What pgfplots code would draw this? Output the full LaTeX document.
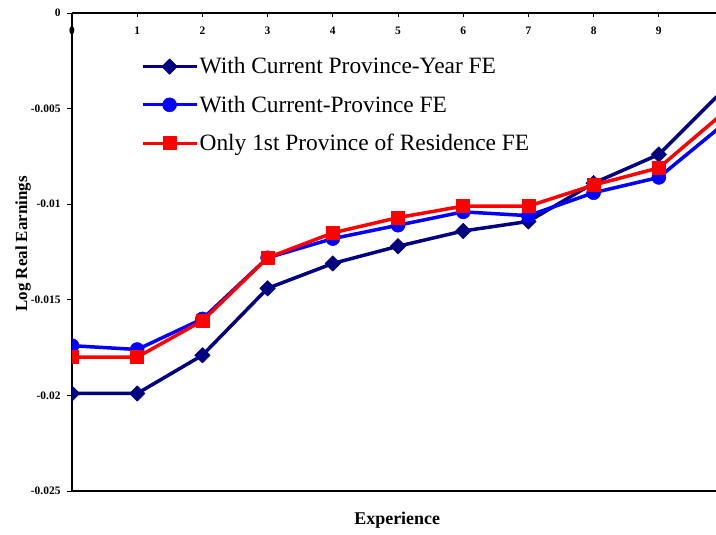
\documentclass[border=0pt]{standalone}
\usepackage{fontspec}
\setmainfont{Liberation Serif}
\usepackage{pgfplots}
\pgfplotsset{compat=1.18}
\definecolor{cnavy}{RGB}{0,0,128}
\definecolor{cblue}{RGB}{0,0,255}
\definecolor{cred}{RGB}{255,0,0}
\begin{document}
\begin{tikzpicture}
\begin{axis}[
  at={(0,0)}, anchor=south west,
  scale only axis, width=644bp, height=478bp,
  xmin=0, xmax=9.877, ymin=-0.025, ymax=0,
  axis x line=box, axis y line=left,
  axis line style={-, line width=1.6bp, black},
  xtick={0,1,2,3,4,5,6,7,8,9},
  xticklabels={0,1,2,3,4,5,6,7,8,9},
  xtick pos=upper, xticklabel pos=upper,
  ytick={-0.025,-0.02,-0.015,-0.01,-0.005,0},
  yticklabels={-0.025,-0.02,-0.015,-0.01,-0.005,0},
  tick align=outside, major tick length=5bp,
  tick style={black, line width=0.8bp},
  xtick style={yshift=-4.5bp},
  tick label style={font=\fontsize{11.5}{13}\selectfont\bfseries},
  xticklabel style={anchor=center, yshift=-23bp},
  yticklabel style={xshift=-3bp},
  every axis x label/.style={at={(axis description cs:0.505,0)}, yshift=-29bp, anchor=center},
  every axis y label/.style={at={(axis description cs:0,0.517)}, xshift=-49bp, rotate=90, anchor=center},
  xlabel={\fontsize{18}{21}\selectfont\bfseries Experience},
  ylabel={\fontsize{17}{20}\selectfont\bfseries Log Real Earnings},
  clip marker paths=true,
  legend cell align=left,
  legend style={draw=none, fill=none, at={(axis description cs:0.107,0.91)}, anchor=north west,
    font=\fontsize{23.5}{28}\selectfont, inner sep=0pt, row sep=17.5bp,
    nodes={inner sep=1.5bp}},
  legend image code/.code={\draw[mark repeat=2, mark phase=2, #1, line width=3bp] plot coordinates {(0bp,0bp) (27bp,0bp) (54bp,0bp)};},
]
\addplot[color=cnavy, line width=3.5bp, line join=round, mark=square*, mark size=5.5bp, mark options={solid, fill=cnavy, line width=0.5bp, rotate=45}]
  coordinates {(0,-0.0199)(1,-0.0199)(2,-0.0179)(3,-0.0144)(4,-0.0131)(5,-0.0122)(6,-0.0114)(7,-0.0109)(8,-0.0089)(9,-0.0074)(10,-0.0040)};
\addlegendentry{With Current Province-Year FE}
\addplot[color=cblue, line width=3.5bp, line join=round, mark=*, mark size=7bp, mark options={solid, fill=cblue, line width=0.5bp}]
  coordinates {(0,-0.0174)(1,-0.0176)(2,-0.0160)(3,-0.0128)(4,-0.0118)(5,-0.0111)(6,-0.0104)(7,-0.0106)(8,-0.0094)(9,-0.0086)(10,-0.0058)};
\addlegendentry{With Current-Province FE}
\addplot[color=cred, line width=3.5bp, line join=round, mark=square*, mark size=6.5bp, mark options={solid, fill=cred, line width=0.5bp}]
  coordinates {(0,-0.0180)(1,-0.0180)(2,-0.0161)(3,-0.0128)(4,-0.0115)(5,-0.0107)(6,-0.0101)(7,-0.0101)(8,-0.0090)(9,-0.0081)(10,-0.0052)};
\addlegendentry{Only 1st Province of Residence FE}
\end{axis}
\pgfresetboundingbox
\useasboundingbox (-72bp,-44bp) rectangle (644bp,491bp);
\end{tikzpicture}
\end{document}
